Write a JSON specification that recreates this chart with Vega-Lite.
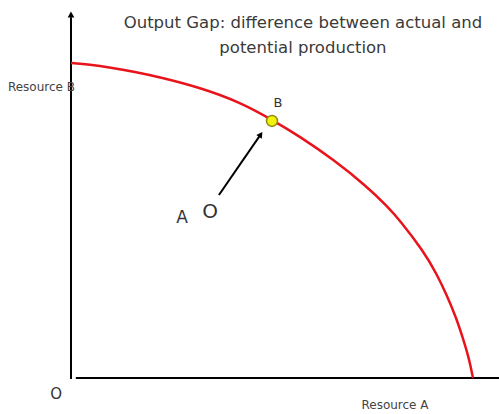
{
  "$schema": "https://vega.github.io/schema/vega-lite/v6.json",
  "width": 499,
  "height": 414,
  "autosize": "none",
  "padding": 0,
  "background": "white",
  "config": {"view": {"stroke": null}},
  "datasets": {
    "curve": [
      {"a": 0, "b": 100}, {"a": 4.7, "b": 99.5}, {"a": 9.7, "b": 98.6}, {"a": 15.9, "b": 97.2},
      {"a": 22.1, "b": 95.5}, {"a": 32.1, "b": 92.2}, {"a": 42.0, "b": 87.6}, {"a": 50.0, "b": 82.0},
      {"a": 57.0, "b": 76.6}, {"a": 65.2, "b": 69.4}, {"a": 73.6, "b": 60.8}, {"a": 78.6, "b": 54.6},
      {"a": 81.8, "b": 50.1}, {"a": 87.6, "b": 40.4}, {"a": 91.0, "b": 33.0}, {"a": 93.5, "b": 26.2},
      {"a": 95.8, "b": 19.2}, {"a": 97.5, "b": 12.6}, {"a": 99.0, "b": 6.3}, {"a": 100, "b": 0}
    ],
    "axesLines": [
      {"name": "yaxis", "a": 0, "b": -0.3, "a2": 0, "b2": 114.5},
      {"name": "xaxis", "a": 1.2, "b": 0, "a2": 106.5, "b2": 0},
      {"name": "move", "a": 36.8, "b": 58.1, "a2": 46.9, "b2": 76.8}
    ],
    "heads": [
      {"name": "yhead", "a": 0, "b": 115.4, "angle": 0},
      {"name": "movehead", "a": 47.2, "b": 77.3, "angle": 35}
    ],
    "points": [{"name": "B", "a": 50.0, "b": 81.6}],
    "labels": [
      {"kind": "title", "text": "Output Gap: difference between actual and", "a": 57.7, "b": 111.1},
      {"kind": "title", "text": "potential production", "a": 57.7, "b": 103.2},
      {"kind": "axis", "text": "Resource B", "a": -15.7, "b": 91.1},
      {"kind": "axisA", "text": "Resource A", "a": 80.6, "b": -9.8},
      {"kind": "origin", "text": "O", "a": -3.7, "b": -6.7},
      {"kind": "pointB", "text": "B", "a": 51.5, "b": 86.0},
      {"kind": "pointA", "text": "A", "a": 27.6, "b": 49.2},
      {"kind": "bigO", "text": "O", "a": 34.6, "b": 50.8}
    ]
  },
  "encoding": {
    "x": {"field": "a", "type": "quantitative", "scale": {"domain": [-17.66, 106.47], "nice": false, "zero": false}, "axis": null},
    "y": {"field": "b", "type": "quantitative", "scale": {"domain": [-11.43, 120], "nice": false, "zero": false}, "axis": null}
  },
  "layer": [
    {
      "data": {"name": "axesLines"},
      "mark": {"type": "rule", "color": "black", "strokeWidth": 2},
      "encoding": {"x2": {"field": "a2"}, "y2": {"field": "b2"}}
    },
    {
      "data": {"name": "heads"},
      "mark": {"type": "point", "shape": "triangle-up", "filled": true, "color": "black", "size": 45, "opacity": 1},
      "encoding": {"angle": {"field": "angle", "type": "quantitative", "scale": null}}
    },
    {
      "data": {"name": "curve"},
      "mark": {"type": "line", "color": "#e8141c", "strokeWidth": 2.5, "interpolate": "basis"},
      "encoding": {"order": {"field": "a", "type": "quantitative"}}
    },
    {
      "data": {"name": "points"},
      "mark": {"type": "point", "shape": "circle", "filled": true, "fill": "#f2f20a", "stroke": "#8c8c10", "strokeWidth": 1.5, "size": 120, "opacity": 1}
    },
    {
      "data": {"name": "labels"},
      "transform": [{"filter": "datum.kind === 'title'"}],
      "mark": {"type": "text", "font": "DejaVu Sans", "fontSize": 16.5, "color": "#3a3a3a", "align": "center", "baseline": "alphabetic"},
      "encoding": {"text": {"field": "text"}}
    },
    {
      "data": {"name": "labels"},
      "transform": [{"filter": "datum.kind === 'axis'"}],
      "mark": {"type": "text", "font": "DejaVu Sans", "fontSize": 12, "color": "#444444", "align": "left", "baseline": "alphabetic"},
      "encoding": {"text": {"field": "text"}}
    },
    {
      "data": {"name": "labels"},
      "transform": [{"filter": "datum.kind === 'axisA'"}],
      "mark": {"type": "text", "font": "DejaVu Sans", "fontSize": 12, "color": "#444444", "align": "center", "baseline": "alphabetic"},
      "encoding": {"text": {"field": "text"}}
    },
    {
      "data": {"name": "labels"},
      "transform": [{"filter": "datum.kind === 'origin'"}],
      "mark": {"type": "text", "font": "DejaVu Sans", "fontSize": 15, "color": "#333333", "align": "center", "baseline": "alphabetic"},
      "encoding": {"text": {"field": "text"}}
    },
    {
      "data": {"name": "labels"},
      "transform": [{"filter": "datum.kind === 'pointB'"}],
      "mark": {"type": "text", "font": "DejaVu Sans", "fontSize": 13, "color": "#333333", "align": "center", "baseline": "alphabetic"},
      "encoding": {"text": {"field": "text"}}
    },
    {
      "data": {"name": "labels"},
      "transform": [{"filter": "datum.kind === 'pointA'"}],
      "mark": {"type": "text", "font": "DejaVu Sans", "fontSize": 17, "color": "#333333", "align": "center", "baseline": "alphabetic"},
      "encoding": {"text": {"field": "text"}}
    },
    {
      "data": {"name": "labels"},
      "transform": [{"filter": "datum.kind === 'bigO'"}],
      "mark": {"type": "text", "font": "DejaVu Sans", "fontSize": 20, "color": "#333333", "align": "center", "baseline": "alphabetic"},
      "encoding": {"text": {"field": "text"}}
    }
  ]
}
